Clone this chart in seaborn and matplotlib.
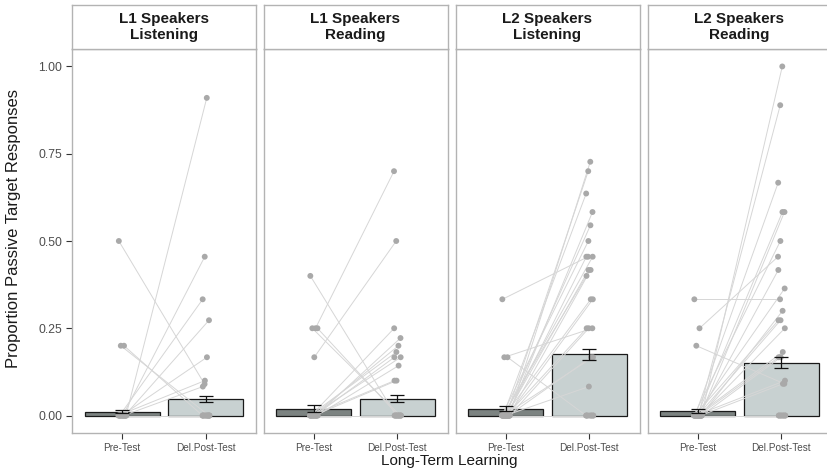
import numpy as np
import pandas as pd
import matplotlib
matplotlib.use("Agg")
import matplotlib.pyplot as plt
import seaborn as sns

plt.rcParams["font.family"] = ["Liberation Sans", "DejaVu Sans"]

# Facet labels and test phases
panels = ["L1 Speakers\nListening", "L1 Speakers\nReading",
          "L2 Speakers\nListening", "L2 Speakers\nReading"]
phases = ["Pre-Test", "Del.Post-Test"]

# Group means and standard errors per facet: [pre, post]
bar_means = [[0.011, 0.048], [0.020, 0.048], [0.020, 0.176], [0.014, 0.151]]
bar_se = [[0.005, 0.009], [0.009, 0.0095], [0.007, 0.016], [0.006, 0.016]]

# Individual participant proportions (paired pre / post)
l1_listen_pre = [0.50, 0.20, 0.20, 0, 0, 0, 0, 0, 0, 0,
                 0, 0, 0, 0, 0, 0, 0, 0, 0, 0]
l1_listen_post = [0.09, 0, 0, 0.91, 0.455, 0.333, 0.273, 0.167, 0.10, 0.083,
                  0, 0, 0, 0, 0, 0, 0, 0, 0, 0]

l1_read_pre = [0.40, 0.25, 0.25, 0.25, 0.167, 0, 0, 0, 0, 0, 0,
               0, 0, 0, 0, 0, 0, 0, 0, 0, 0, 0]
l1_read_post = [0, 0.70, 0, 0, 0.50, 0.25, 0.222, 0.20, 0.182, 0.167, 0.167,
                0.143, 0.10, 0.10, 0, 0, 0, 0, 0, 0, 0, 0]

l2_listen_pre = [0.333, 0.167, 0.167, 0, 0, 0, 0, 0, 0, 0, 0, 0, 0, 0, 0,
                 0, 0, 0, 0, 0, 0, 0, 0, 0, 0, 0, 0, 0]
l2_listen_post = [0.455, 0, 0.25, 0.727, 0.70, 0.636, 0.583, 0.545, 0.50, 0.455,
                  0.455, 0.417, 0.417, 0.40, 0.333, 0.333, 0.25, 0.25, 0.167,
                  0.167, 0.083, 0, 0, 0, 0, 0, 0, 0]

l2_read_pre = [0.333, 0.25, 0.20, 0, 0, 0, 0, 0, 0, 0, 0, 0, 0, 0, 0,
               0, 0, 0, 0, 0, 0, 0, 0, 0, 0, 0, 0, 0]
l2_read_post = [0.333, 0.455, 0.091, 1.0, 0.889, 0.667, 0.583, 0.583, 0.50,
                0.417, 0.364, 0.30, 0.273, 0.273, 0.25, 0.182, 0.167, 0.167,
                0.10, 0.091, 0, 0, 0, 0, 0, 0, 0, 0]

scores = [(l1_listen_pre, l1_listen_post), (l1_read_pre, l1_read_post),
          (l2_listen_pre, l2_listen_post), (l2_read_pre, l2_read_post)]

W, H = 827, 472
fig = plt.figure(figsize=(W / 100, H / 100), dpi=100)

PRE_FILL = "#7b8482"
POST_FILL = "#c7d2d2"
BORDER = "#b3b3b3"
TICK_TXT = "#4d4d4d"

panel_left = [72, 263.5, 455.5, 647.5]
panel_w = 184
panel_top, panel_bot = 49, 433
strip_top = 5


def fig_rect(x0, y_top, w, y_bot):
    return [x0 / W, 1 - y_bot / H, w / W, (y_bot - y_top) / H]


for i, (label, (pre, post)) in enumerate(zip(panels, scores)):
    ax = fig.add_axes(fig_rect(panel_left[i], panel_top, panel_w, panel_bot))

    bars = pd.DataFrame({"phase": phases, "mean": bar_means[i]})
    sns.barplot(data=bars, x="phase", y="mean", hue="phase", order=phases,
                palette=[PRE_FILL, POST_FILL], width=0.9, edgecolor="#1a1a1a",
                linewidth=0.9, legend=False, ax=ax, zorder=1)

    # Paired participant trajectories with a small fixed horizontal spread
    n = len(pre)
    idx = np.arange(n)
    jit_pre = ((idx * 0.6180339 + 0.1) % 1 - 0.5) * 0.10
    jit_post = ((idx * 0.7548776 + 0.35) % 1 - 0.5) * 0.10
    long = pd.DataFrame({
        "pid": np.concatenate([idx, idx]),
        "x": np.concatenate([0 + jit_pre, 1 + jit_post]),
        "score": np.concatenate([pre, post]),
    })
    sns.lineplot(data=long, x="x", y="score", units="pid", estimator=None,
                 color="#d6d6d6", linewidth=0.7, sort=True, ax=ax, zorder=2)
    sns.scatterplot(data=long, x="x", y="score", color="#a9a9a9", s=18,
                    edgecolor="none", ax=ax, zorder=3)

    ax.errorbar([0, 1], bar_means[i], yerr=bar_se[i], fmt="none",
                ecolor="#111111", elinewidth=0.9, capsize=5, capthick=0.9,
                zorder=4)

    ax.set_xlim(-0.6, 1.6)
    ax.set_ylim(-0.05, 1.05)
    ax.set_xticks([0, 1])
    ax.set_xticklabels(phases)
    ax.set_xlabel("")
    ax.set_ylabel("")
    ax.tick_params(axis="x", direction="out", length=4, width=0.8,
                   color="#333333", labelsize=7.2, labelcolor=TICK_TXT, pad=3)
    if i == 0:
        ax.set_yticks([0, 0.25, 0.5, 0.75, 1.0])
        ax.set_yticklabels(["0.00", "0.25", "0.50", "0.75", "1.00"])
        ax.tick_params(axis="y", direction="out", length=4, width=0.8,
                       color="#333333", labelsize=8.8, labelcolor=TICK_TXT,
                       pad=3)
    else:
        ax.set_yticks([])
    for sp in ax.spines.values():
        sp.set_color(BORDER)
        sp.set_linewidth(1.0)
    ax.set_facecolor("white")

    # Facet strip
    sax = fig.add_axes(fig_rect(panel_left[i], strip_top, panel_w, panel_top))
    sax.set_xticks([])
    sax.set_yticks([])
    for sp in sax.spines.values():
        sp.set_color(BORDER)
        sp.set_linewidth(1.0)
    sax.text(0.5, 0.5, label, ha="center", va="center", fontsize=11,
             fontweight="bold", color="#1a1a1a", linespacing=1.15,
             transform=sax.transAxes)

fig.text(14 / W, 1 - 228 / H, "Proportion Passive Target Responses",
         rotation=90, ha="center", va="center", fontsize=12, color="#1a1a1a")
fig.text(449 / W, 1 - 461 / H, "Long-Term Learning", ha="center",
         va="center", fontsize=11, color="#1a1a1a")

fig.savefig("out.png", dpi=100, facecolor="white")
